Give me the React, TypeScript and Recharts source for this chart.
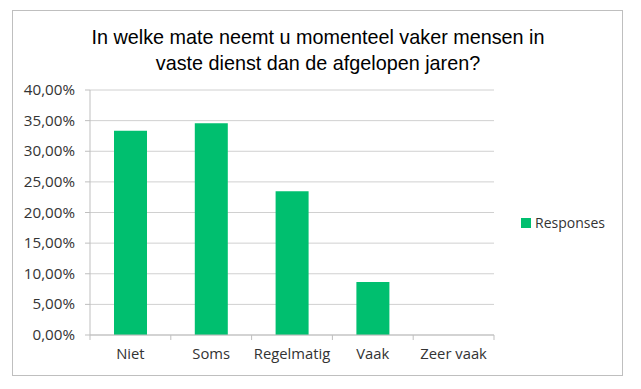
import React from 'react';
import { BarChart, Bar, XAxis, YAxis, CartesianGrid } from 'recharts';

const categories = ['Niet', 'Soms', 'Regelmatig', 'Vaak', 'Zeer vaak'];
const responses = [0.3333, 0.3457, 0.2346, 0.0864, 0];
const yTicks = [0, 0.05, 0.1, 0.15, 0.2, 0.25, 0.3, 0.35, 0.4];
const seriesName = 'Responses';

const data = categories.map((c, i) => ({ name: c, Responses: responses[i] }));

const FONT = '"Open Sans", sans-serif';
const TEXT = '#333';
const AXIS = '#bfbfbf';
const GREEN = '#00BF6F';

const fmtPct = (v: number) => (v * 100).toFixed(2).replace('.', ',') + '%';

// plot spans x 90..494, so each category is ~80.8px wide
const BAND = (494 - 90) / categories.length;

const XTick = (props: any) => {
  const { x, y, payload, index } = props;
  return (
    <g>
      <line x1={x - BAND / 2} x2={x - BAND / 2} y1={y - 8} y2={y - 3} stroke={AXIS} />
      {index === categories.length - 1 && (
        <line x1={x + BAND / 2} x2={x + BAND / 2} y1={y - 8} y2={y - 3} stroke={AXIS} />
      )}
      <text x={x} y={y + 16} textAnchor="middle" fill={TEXT} fontSize={14.8} fontFamily={FONT}>
        {payload.value}
      </text>
    </g>
  );
};

const YTick = (props: any) => {
  const { x, y, payload } = props;
  return (
    <text x={x} y={y} dy={5} textAnchor="end" fill={TEXT} fontSize={15.2} fontFamily={FONT}>
      {fmtPct(payload.value)}
    </text>
  );
};

export default function App() {
  return (
    <div style={{ position: 'absolute', left: 0, top: 0, width: 641, height: 389, background: '#fff' }}>
      <div style={{
        position: 'absolute', left: 12, top: 10, width: 609, height: 364,
        border: '1px solid #bfbfbf', boxSizing: 'content-box'
      }} />
      <div style={{
        position: 'absolute', left: 12, top: 24, width: 612, textAlign: 'center',
        fontFamily: '"Liberation Sans", Arial, sans-serif', fontSize: 19.8, lineHeight: '26px', color: '#000'
      }}>
        In welke mate neemt u momenteel vaker mensen in<br />vaste dienst dan de afgelopen jaren?
      </div>
      <BarChart
        width={641}
        height={389}
        data={data}
        margin={{ top: 90, right: 147, bottom: 24, left: 30 }}
        barSize={33}
        style={{ position: 'absolute', left: 0, top: 0 }}
      >
        <CartesianGrid vertical={false} stroke="#d0d0d0" />
        <XAxis
          dataKey="name"
          height={30}
          stroke={AXIS}
          tickLine={false}
          tick={<XTick />}
          interval={0}
        />
        <YAxis
          width={60}
          domain={[0, 0.4]}
          ticks={yTicks}
          stroke={AXIS}
          tickSize={5}
          tickMargin={10}
          tick={<YTick />}
        />
        <Bar dataKey="Responses" name={seriesName} fill={GREEN} isAnimationActive={false} />
      </BarChart>
      <div style={{
        position: 'absolute', left: 521, top: 213, display: 'flex', alignItems: 'center',
        fontFamily: FONT, fontSize: 14, color: TEXT
      }}>
        <span style={{ width: 10, height: 10, background: GREEN, marginRight: 4 }} />
        {seriesName}
      </div>
    </div>
  );
}
